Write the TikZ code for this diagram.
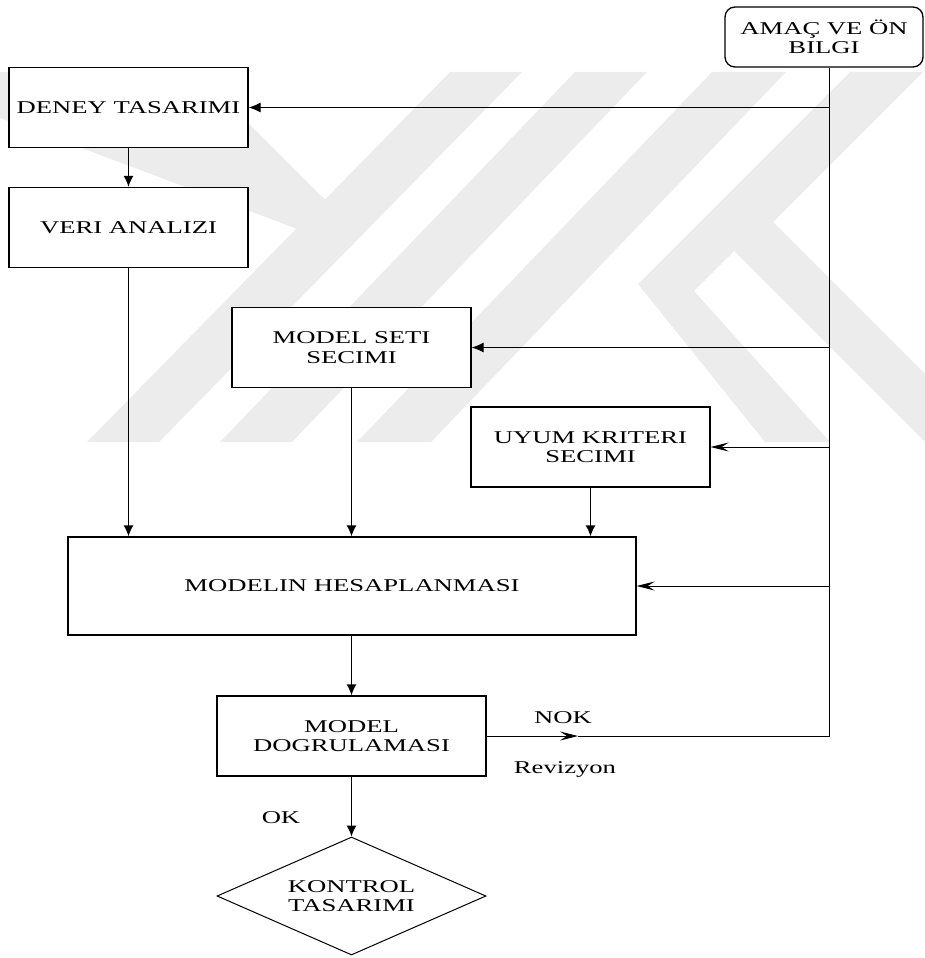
\documentclass[tikz,border=0pt]{standalone}
\usepackage{fontspec}
\setmainfont{Liberation Serif}[FakeStretch=1.48]
\usetikzlibrary{arrows.meta,shapes.geometric}
\definecolor{wmgray}{RGB}{236,236,236}
\newcommand{\diafont}{\fontsize{18}{19.5}\selectfont}
\begin{document}
\begin{tikzpicture}[x=1pt,y=-1pt,
  wm/.style={fill=wmgray,draw=none},
  box/.style={draw,line width=1.3pt,fill=white,inner sep=0pt,align=center,font=\diafont,minimum height=80},
  lbl/.style={font=\diafont,inner sep=0pt,anchor=base},
  feed/.style={line width=1pt},
  tri/.style={-{Latex[length=12,width=10]}},
  barb/.style={-{Stealth[length=18,width=9,inset=7]}},
  down/.style={line width=1.3pt,-{Latex[length=11,width=10]}}]
\useasboundingbox (0,0) rectangle (925,958);
% watermark
\fill[wm] (0,72) -- (197,72) -- (328,203) -- (300,230) -- (87,150) -- (0,118) -- cycle;
\fill[wm] (450,72) -- (522,72) -- (159,442) -- (87,442) -- cycle;
\fill[wm] (575,72) -- (647,72) -- (292,442) -- (220,442) -- cycle;
\fill[wm] (712,72) -- (786,72) -- (431,442) -- (357,442) -- cycle;
\fill[wm] (850,72) -- (923,72) -- (773,222) -- (925,374) -- (925,442) -- (734,251)
  -- (694,291) -- (830,442) -- (765,442) -- (638,284) -- cycle;
% nodes
\node[box,rounded corners=10pt,minimum width=198,minimum height=60] (amac) at (824,37) {AMAÇ VE ÖN\\BILGI};
\node[box,minimum width=239] (deney) at (128.5,107.5) {DENEY TASARIMI};
\node[box,minimum width=239] (veri) at (128.5,227.5) {VERI ANALIZI};
\node[box,minimum width=239] (seti) at (351.5,347.5) {MODEL SETI\\SECIMI};
\node[box,minimum width=239] (uyum) at (590.5,447) {UYUM KRITERI\\SECIMI};
\node[box,minimum width=568,minimum height=98] (hesap) at (352,586) {MODELIN HESAPLANMASI};
\node[box,minimum width=269] (dogrul) at (351.5,736) {MODEL\\DOGRULAMASI};
\node[box,diamond,aspect=2.28,line width=1pt,minimum width=269,minimum height=118] (kontrol) at (351.5,896) {KONTROL\\TASARIMI};
% labels
\node[lbl] (nok) at (563,723) {NOK};
\node[lbl] (rev) at (565,773) {Revizyon};
\node[lbl] (ok) at (281,823) {OK};
% connectors
\coordinate (corner) at (829,736);
\coordinate (nokm) at (578,736);
\draw[feed,barb] (dogrul.east) -- (nokm);
\draw[feed] (nokm) -- (corner) -- (amac.south -| corner);
\draw[feed,tri] (corner |- deney.east) -- (deney.east);
\draw[feed,tri] (corner |- seti.east) -- (seti.east);
\draw[feed,barb] (corner |- uyum.east) -- (uyum.east);
\draw[feed,barb] (corner |- hesap.east) -- (hesap.east);
\draw[down] (deney) -- (veri);
\draw[down] (veri.south) -- (veri.south |- hesap.north);
\draw[down] (seti.south) -- (seti.south |- hesap.north);
\draw[down] (uyum.south) -- (uyum.south |- hesap.north);
\draw[down] (hesap.south -| dogrul.north) -- (dogrul.north);
\draw[down] (dogrul.south) -- (kontrol.north);
\end{tikzpicture}
\end{document}
